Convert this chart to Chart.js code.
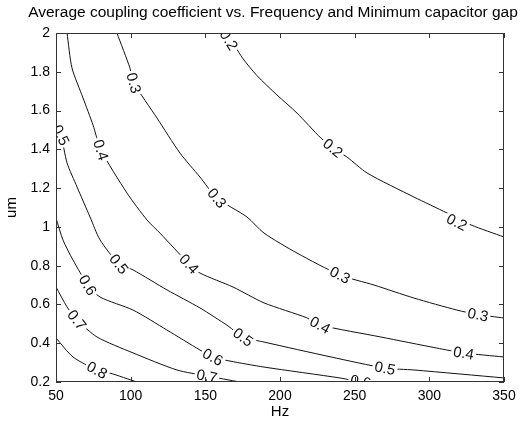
<!DOCTYPE html>
<html>
<head>
<meta charset="utf-8">
<script src="https://cdn.jsdelivr.net/npm/chart.js@4/dist/chart.umd.min.js"></script>
<style>
  html, body { margin: 0; padding: 0; background: #fff; }
  #wrap { width: 528px; height: 428px; }
</style>
</head>
<body>
<div id="wrap"><canvas id="chart" width="528" height="428"></canvas></div>
<script>
// Chart text
const titleText = 'Average coupling coefficient vs. Frequency and Minimum capacitor gap';
const xTitle = 'Hz';
const yTitle = 'um';

// Axis ticks
const xTicks = [50, 100, 150, 200, 250, 300, 350];
const yTicks = [0.2, 0.4, 0.6, 0.8, 1, 1.2, 1.4, 1.6, 1.8, 2];
const yTickLabels = ['0.2', '0.4', '0.6', '0.8', '1', '1.2', '1.4', '1.6', '1.8', '2'];

// Contour levels and the lines (Hz, um)
const levels = [0.2, 0.3, 0.4, 0.5, 0.6, 0.7, 0.8];

const hz02 = [164.5, 175, 184.6, 198, 211.4, 227.4, 235.5, 244.9, 258.3, 289.7, 311.8, 327.9, 350];
const um02 = [2.0, 1.87, 1.78, 1.68, 1.587, 1.458, 1.407, 1.36, 1.278, 1.154, 1.072, 1.01, 0.948];

const hz03 = [90.8, 99.5, 102.2, 117.6, 133, 146.4, 157.8, 177.9, 189.3, 211.4, 240.2, 263, 289.7, 318.5, 332.6, 350];
const um03 = [2.0, 1.82, 1.742, 1.562, 1.381, 1.257, 1.149, 1.051, 0.968, 0.865, 0.752, 0.70, 0.633, 0.571, 0.548, 0.530];

const hz04 = [57.4, 60.7, 68.1, 74.8, 80.1, 97.5, 111, 119.6, 139.1, 146.4, 168.5, 189.3, 218, 226.8, 267.6, 305, 323, 350];
const um04 = [2.0, 1.82, 1.665, 1.525, 1.397, 1.175, 1.035, 0.968, 0.809, 0.762, 0.69, 0.608, 0.531, 0.494, 0.432, 0.375, 0.35, 0.329];

const hz05 = [50, 53.3, 57.4, 64.1, 72.8, 79.5, 92.2, 101.6, 124.3, 146.4, 165.2, 175.3, 189.3, 234.2, 270.3, 289.7, 350];
const um05 = [1.525, 1.474, 1.33, 1.206, 1.051, 0.933, 0.809, 0.778, 0.675, 0.582, 0.489, 0.432, 0.406, 0.329, 0.272, 0.262, 0.221];

const hz06 = [50, 54.7, 61.4, 71.4, 79.5, 101.6, 124.3, 146.4, 155.1, 166.5, 189.3, 240.8, 253.6];
const um06 = [1.045, 0.932, 0.829, 0.70, 0.638, 0.571, 0.468, 0.365, 0.329, 0.308, 0.277, 0.22, 0.2];

const hz07 = [50, 57.4, 64.1, 77.5, 101.6, 131, 151.1, 173.2];
const um07 = [0.69, 0.587, 0.52, 0.432, 0.35, 0.262, 0.231, 0.2];

const hz08 = [50, 61.4, 77.5, 86.2, 104.2];
const um08 = [0.427, 0.329, 0.262, 0.246, 0.2];

const lineHz = [hz02, hz03, hz04, hz05, hz06, hz07, hz08];
const lineUm = [um02, um03, um04, um05, um06, um07, um08];

// In-line contour labels
const labelLevel = [0.2, 0.2, 0.2, 0.3, 0.3, 0.3, 0.3, 0.4, 0.4, 0.4, 0.4, 0.5, 0.5, 0.5, 0.5, 0.6, 0.6, 0.6, 0.7, 0.7, 0.8];
const labelHz = [165.8, 235.5, 318.5, 102.2, 157.8, 240.2, 332.6, 80.1, 139.1, 226.8, 323, 53.3, 92.2, 175.3, 270.3, 71.4, 155.1, 254, 64.1, 151.1, 77.5];
const labelUm = [1.964, 1.407, 1.025, 1.742, 1.149, 0.752, 0.548, 1.397, 0.809, 0.494, 0.35, 1.474, 0.809, 0.432, 0.272, 0.70, 0.329, 0.203, 0.52, 0.231, 0.262];

const FONT = '"Liberation Sans", Arial, sans-serif';

const datasets = levels.map((lv, i) => ({
  label: String(lv),
  data: lineHz[i].map((h, k) => ({ x: h, y: lineUm[i][k] })),
  showLine: true,
  borderColor: '#111',
  borderWidth: 1,
  pointRadius: 0,
  tension: 0.25,
  fill: false
}));

// Title, box with inward ticks, and contour labels
const contourDecor = {
  id: 'contourDecor',
  afterDatasetsDraw(chart) {
    const { ctx, chartArea: a, scales: { x, y } } = chart;

    ctx.save();
    ctx.beginPath();
    ctx.rect(a.left, a.top, a.right - a.left, a.bottom - a.top);
    ctx.clip();
    ctx.font = '15px ' + FONT;
    ctx.textAlign = 'center';
    ctx.textBaseline = 'middle';
    labelLevel.forEach((lv, i) => {
      const px = x.getPixelForValue(labelHz[i]);
      const py = y.getPixelForValue(labelUm[i]);
      const pts = chart.getDatasetMeta(levels.indexOf(lv)).data;
      let best = Infinity, ang = 0;
      for (let k = 0; k < pts.length - 1; k++) {
        const p = pts[k], q = pts[k + 1];
        const dx = q.x - p.x, dy = q.y - p.y;
        const len2 = dx * dx + dy * dy || 1;
        let t = ((px - p.x) * dx + (py - p.y) * dy) / len2;
        t = Math.max(0, Math.min(1, t));
        const ex = p.x + t * dx - px, ey = p.y + t * dy - py;
        const d = ex * ex + ey * ey;
        if (d < best) { best = d; ang = Math.atan2(dy, dx); }
      }
      const txt = lv.toFixed(1);
      const w = ctx.measureText(txt).width;
      ctx.save();
      ctx.translate(px, py);
      ctx.rotate(ang);
      ctx.fillStyle = '#fff';
      ctx.fillRect(-w / 2 - 2, -5.5, w + 4, 11);
      ctx.fillStyle = '#111';
      ctx.fillText(txt, 0, 1);
      ctx.restore();
    });
    ctx.restore();

    ctx.save();
    ctx.strokeStyle = '#333';
    ctx.lineWidth = 1;
    ctx.strokeRect(Math.round(a.left) + 0.5, Math.round(a.top) + 0.5,
      Math.round(a.right - a.left) - 1, Math.round(a.bottom - a.top) - 1);
    ctx.beginPath();
    xTicks.forEach(v => {
      const px = Math.round(x.getPixelForValue(v)) + 0.5;
      ctx.moveTo(px, a.bottom); ctx.lineTo(px, a.bottom - 5);
      ctx.moveTo(px, a.top); ctx.lineTo(px, a.top + 5);
    });
    yTicks.forEach(v => {
      const py = Math.round(y.getPixelForValue(v)) + 0.5;
      ctx.moveTo(a.left, py); ctx.lineTo(a.left + 5, py);
      ctx.moveTo(a.right, py); ctx.lineTo(a.right - 5, py);
    });
    ctx.stroke();

    ctx.fillStyle = '#000';
    ctx.font = '15.5px ' + FONT;
    ctx.textAlign = 'center';
    ctx.textBaseline = 'middle';
    ctx.fillText(titleText, 273, 13);
    ctx.restore();
  }
};

new Chart(document.getElementById('chart'), {
  type: 'scatter',
  data: { datasets: datasets },
  options: {
    responsive: false,
    animation: false,
    layout: { padding: { top: 33, right: 24, bottom: 0, left: 0 } },
    plugins: {
      legend: { display: false },
      tooltip: { enabled: false },
      title: { display: false }
    },
    scales: {
      x: {
        type: 'linear',
        min: 50,
        max: 350,
        afterBuildTicks: s => { s.ticks = xTicks.map(v => ({ value: v })); },
        afterFit: s => { s.height = 46; },
        grid: { display: false, drawTicks: false },
        border: { display: false },
        ticks: { color: '#000', padding: 6, font: { size: 14, family: FONT }, maxRotation: 0 },
        title: { display: true, text: xTitle, color: '#000', font: { size: 15, family: FONT }, padding: { top: 0, bottom: 7 } }
      },
      y: {
        type: 'linear',
        min: 0.2,
        max: 2,
        afterBuildTicks: s => { s.ticks = yTicks.map(v => ({ value: v })); },
        afterFit: s => { s.width = 56; },
        grid: { display: false, drawTicks: false },
        border: { display: false },
        ticks: {
          color: '#000',
          padding: 6,
          font: { size: 14, family: FONT },
          callback: (v, i) => yTickLabels[i]
        },
        title: { display: true, text: yTitle, color: '#000', font: { size: 15, family: FONT }, padding: { top: 3, bottom: 0 } }
      }
    }
  },
  plugins: [contourDecor]
});
</script>
</body>
</html>
